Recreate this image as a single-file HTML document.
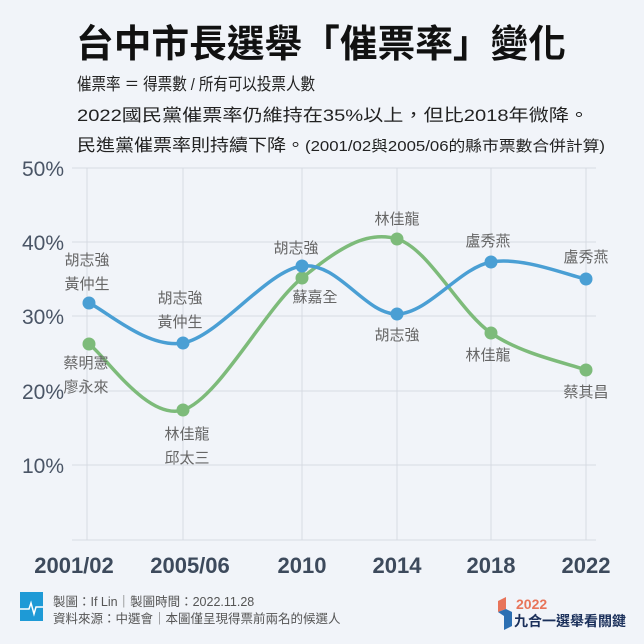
<!DOCTYPE html>
<html><head><meta charset="utf-8"><style>
body{margin:0;width:644px;height:644px;background:#f1f4f9;overflow:hidden;font-family:"Liberation Sans","Noto Sans CJK TC",sans-serif}
</style></head><body>
<svg width="644" height="644" xmlns="http://www.w3.org/2000/svg" style="position:absolute;left:0;top:0" font-family="Liberation Sans, Noto Sans CJK TC, sans-serif">
<rect width="644" height="644" fill="#f1f4f9"/>
<text x="76" y="57" font-size="38" font-weight="bold" fill="#111" textLength="490" lengthAdjust="spacingAndGlyphs">台中市長選舉「催票率」變化</text>
<text x="77" y="90" font-size="17" fill="#222" textLength="238" lengthAdjust="spacingAndGlyphs">催票率 ＝ 得票數 / 所有可以投票人數</text>
<text x="77" y="121" font-size="17" fill="#222" textLength="512" lengthAdjust="spacingAndGlyphs">2022國民黨催票率仍維持在35%以上，但比2018年微降。</text>
<text x="77" y="151" font-size="17" fill="#222" textLength="528" lengthAdjust="spacingAndGlyphs">民進黨催票率則持續下降。<tspan font-size="15">(2001/02與2005/06的縣市票數合併計算)</tspan></text>
<g stroke="#d6dbe3" stroke-width="1">
<line x1="72" y1="168" x2="596" y2="168"/><line x1="72" y1="242" x2="596" y2="242"/><line x1="72" y1="316" x2="596" y2="316"/><line x1="72" y1="391" x2="596" y2="391"/><line x1="72" y1="465" x2="596" y2="465"/><line x1="72" y1="540" x2="596" y2="540"/>
<line x1="87" y1="168" x2="87" y2="540"/><line x1="183" y1="168" x2="183" y2="540"/><line x1="302" y1="168" x2="302" y2="540"/><line x1="397" y1="168" x2="397" y2="540"/><line x1="491" y1="168" x2="491" y2="540"/><line x1="586" y1="168" x2="586" y2="540"/>
</g>
<g font-size="21" fill="#4a5566" text-anchor="end">
<text x="64" y="176">50%</text><text x="64" y="250">40%</text><text x="64" y="324">30%</text><text x="64" y="399">20%</text><text x="64" y="473">10%</text>
</g>
<g font-size="22" font-weight="bold" fill="#3d4a5c" text-anchor="middle">
<text x="74" y="573">2001/02</text><text x="190" y="573">2005/06</text><text x="302" y="573">2010</text><text x="397" y="573">2014</text><text x="491" y="573">2018</text><text x="586" y="573">2022</text>
</g>
<path d="M89,344 C104.7,355 147.5,421 183,410 C218.5,399 266.3,306.5 302,278 C337.7,249.5 365.5,229.8 397,239 C428.5,248.2 459.5,311.2 491,333 C522.5,354.8 570.2,363.8 586,370" fill="none" stroke="#7dbb7a" stroke-width="3.5"/>
<path d="M89,303 C104.7,309.7 147.5,349.2 183,343 C218.5,336.8 266.3,270.8 302,266 C337.7,261.2 365.5,314.7 397,314 C428.5,313.3 459.5,267.8 491,262 C522.5,256.2 570.2,276.2 586,279" fill="none" stroke="#4a9fd4" stroke-width="3.5"/>
<g fill="#7dbb7a"><circle cx="89" cy="344" r="6.5"/><circle cx="183" cy="410" r="6.5"/><circle cx="302" cy="278" r="6.5"/><circle cx="397" cy="239" r="6.5"/><circle cx="491" cy="333" r="6.5"/><circle cx="586" cy="370" r="6.5"/></g>
<g fill="#4a9fd4"><circle cx="89" cy="303" r="6.5"/><circle cx="183" cy="343" r="6.5"/><circle cx="302" cy="266" r="6.5"/><circle cx="397" cy="314" r="6.5"/><circle cx="491" cy="262" r="6.5"/><circle cx="586" cy="279" r="6.5"/></g>
<g font-size="15" fill="#666" text-anchor="middle">
<text x="87" y="265">胡志強</text><text x="87" y="289">黃仲生</text>
<text x="180" y="303">胡志強</text><text x="180" y="327">黃仲生</text>
<text x="86" y="368">蔡明憲</text><text x="86" y="392">廖永來</text>
<text x="187" y="439">林佳龍</text><text x="187" y="463">邱太三</text>
<text x="296" y="253">胡志強</text><text x="315" y="302">蘇嘉全</text>
<text x="397" y="224">林佳龍</text><text x="397" y="340">胡志強</text>
<text x="488" y="246">盧秀燕</text><text x="488" y="360">林佳龍</text>
<text x="586" y="262">盧秀燕</text><text x="586" y="397">蔡其昌</text>
</g>
<rect x="20" y="592" width="23" height="29" fill="#1e9ad6"/>
<polyline points="20,609 29,609 31,603 34,614 36,607 43,607" fill="none" stroke="#fff" stroke-width="1.5"/>
<g font-size="12.5" fill="#555">
<text x="53" y="606">製圖：If Lin｜製圖時間：2022.11.28</text>
<text x="53" y="623">資料來源：中選會｜本圖僅呈現得票前兩名的候選人</text>
</g>
<polygon points="398,601 406,597 406,609 398,612" fill="#e8745a" transform="translate(100,0)"/>
<polygon points="498,612 506,609 512,612 512,626 504,630 504,616" fill="#2c6fb2"/>
<text x="516" y="609" font-size="14" font-weight="bold" fill="#e8745a">2022</text>
<text x="514" y="626" font-size="14" font-weight="bold" fill="#1a2f5a">九合一選舉看關鍵</text>
</svg>
</body></html>
